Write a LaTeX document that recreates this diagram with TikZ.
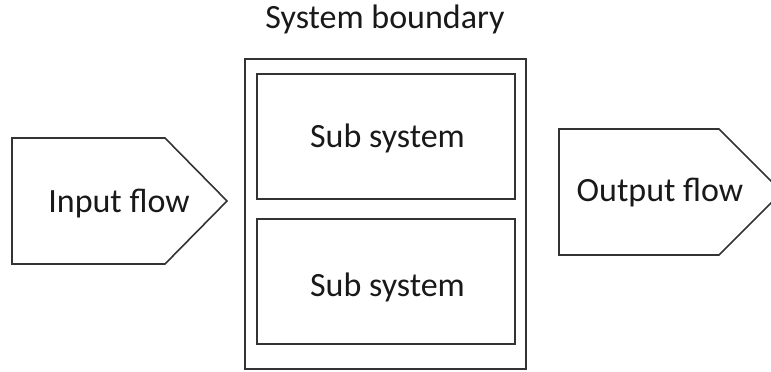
\documentclass[tikz,border=0pt]{standalone}
\usepackage{fontspec}
\setmainfont{Carlito}
\begin{document}
\begin{tikzpicture}[x=1pt,y=-1pt,
  outline/.style={draw=black!80,line width=1.6pt,line join=miter},
  label/.style={font=\fontsize{34}{40}\selectfont,text=black!90,inner sep=0pt},
  subbox/.style={outline,minimum width=258pt,minimum height=125pt,inner sep=0pt}]
\useasboundingbox (0,0) rectangle (771,372);
\clip (0,0) rectangle (771,372);
% system boundary with its two subsystems
\node[outline,minimum width=281pt,minimum height=310pt,inner sep=0pt] (boundary) at (385.5,214) {};
\node[subbox] (sub1) at (386,136.5) {};
\node[subbox] (sub2) at (386,281.5) {};
\node[label,anchor=base] (sub1text) at (387.5,147) {Sub system};
\node[label,anchor=base] (sub2text) at (387.5,296) {Sub system};
\node[label,anchor=base] (title) at (385,28) {System boundary};
% input and output flow pentagons
\draw[outline] (12,138) -- (165,138) -- (227,201) -- (165,264) -- (12,264) -- cycle;
\node[label,anchor=base] (input) at (119,212) {Input flow};
\draw[outline] (559,129) -- (719,129) -- (782,192) -- (719,255) -- (559,255) -- cycle;
\node[label,anchor=base] (output) at (660,201) {Output flow};
\end{tikzpicture}
\end{document}
